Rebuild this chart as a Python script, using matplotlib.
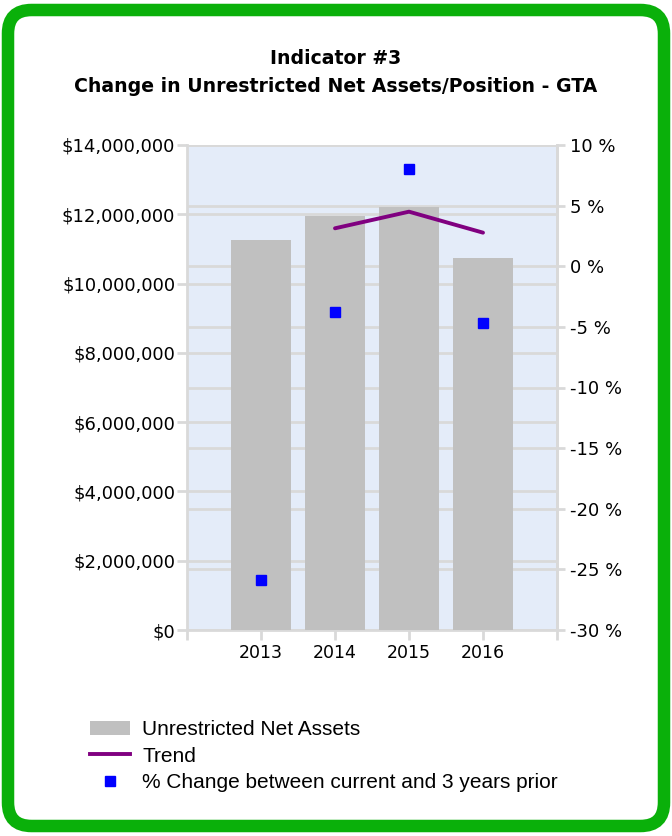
import matplotlib
matplotlib.use("Agg")
import matplotlib.pyplot as plt
from matplotlib.patches import FancyBboxPatch
from matplotlib.lines import Line2D
from matplotlib.patches import Patch

years = ["2013", "2014", "2015", "2016"]
net_assets = [11260000, 11950000, 12220000, 10730000]
trend_years = ["2014", "2015", "2016"]
trend_pct = [3.13, 4.5, 2.77]
pct_change = [-25.9, -3.8, 8.0, -4.7]
left_ticks = [0, 2000000, 4000000, 6000000, 8000000, 10000000, 12000000, 14000000]
right_ticks = [-30, -25, -20, -15, -10, -5, 0, 5, 10]

W, H = 672, 836
fig = plt.figure(figsize=(W / 100, H / 100), dpi=100)
fig.patch.set_facecolor("white")

# green rounded frame
frame = FancyBboxPatch((8 / W, 10 / H), (W - 16) / W, (H - 20) / H,
                       boxstyle="round,pad=0,rounding_size=0.035",
                       transform=fig.transFigure, facecolor="white",
                       edgecolor="#0AB00A", linewidth=9, zorder=-10,
                       mutation_aspect=W / H)
fig.patches.append(frame)

font = "DejaVu Sans"
fig.text(0.5, 1 - 58 / H, "Indicator #3", ha="center", va="center",
         fontsize=13.6, fontweight="bold", family=font)
fig.text(0.5, 1 - 86 / H, "Change in Unrestricted Net Assets/Position - GTA",
         ha="center", va="center", fontsize=13.6, fontweight="bold", family=font)

rect = [187 / W, 1 - 630 / H, 370 / W, 485 / H]
gc = "#D9D9D9"

# right axis (behind) carries background and its own gridlines
ax2 = fig.add_axes(rect, zorder=0)
ax2.set_facecolor("#E4ECF9")
ax2.set_xlim(-1, 4)
ax2.set_ylim(-30, 10)
ax2.yaxis.tick_right()
ax2.set_yticks(right_ticks)
ax2.set_yticklabels(["{} %".format(v) for v in right_ticks], fontsize=13, family=font)
ax2.set_xticks([])
ax2.grid(axis="y", color=gc, linewidth=2)
for s in ["top", "left", "bottom"]:
    ax2.spines[s].set_visible(False)
ax2.spines["right"].set_color(gc)
ax2.spines["right"].set_linewidth(2)
ax2.tick_params(axis="y", colors=gc, labelcolor="black", width=2, length=6, pad=3)

# left axis (front) with bars
ax = fig.add_axes(rect, zorder=1)
ax.patch.set_visible(False)
x = list(range(len(years)))
ax.bar(x, net_assets, width=0.8, color="#C0C0C0", zorder=3)
tx = [years.index(y) for y in trend_years]
ax.plot(tx, trend_pct, color="#800080", linewidth=2.8, zorder=5,
        solid_capstyle="round", transform=ax2.transData)
ax.plot(x, pct_change, linestyle="none", marker="s", markersize=7.5,
        color="#0000FF", zorder=6, transform=ax2.transData)
ax.set_xlim(-1, 4)
ax.set_ylim(0, 14000000)
ax.set_yticks(left_ticks)
ax.set_yticklabels(["${:,.0f}".format(v) for v in left_ticks], fontsize=13, family=font)
ax.set_xticks([-1] + x + [4])
ax.set_xticklabels([""] + years + [""], fontsize=12.5, family=font)
ax.grid(axis="y", color=gc, linewidth=2, zorder=1)
ax.set_axisbelow(True)
ax.spines["top"].set_visible(False)
for s in ["left", "right", "bottom"]:
    ax.spines[s].set_color(gc)
    ax.spines[s].set_linewidth(2)
ax.tick_params(axis="both", colors=gc, labelcolor="black", width=2, length=7, pad=3)
ax.tick_params(axis="y", pad=1.5)

handles = [Patch(facecolor="#C0C0C0", edgecolor="none"),
           Line2D([0], [0], color="#800080", linewidth=2.8),
           Line2D([0], [0], linestyle="none", marker="s", markersize=7, color="#0000FF")]
labels = ["Unrestricted Net Assets", "Trend", "% Change between current and 3 years prior"]
fig.legend(handles, labels, loc="upper left", bbox_to_anchor=(90 / W, 1 - 720 / H),
           frameon=False, prop={"family": "Liberation Sans", "size": 15},
           handlelength=1.92, handleheight=0.65, handletextpad=0.58, labelspacing=0.36,
           borderaxespad=0, borderpad=0)

fig.savefig("out.png", dpi=100)
